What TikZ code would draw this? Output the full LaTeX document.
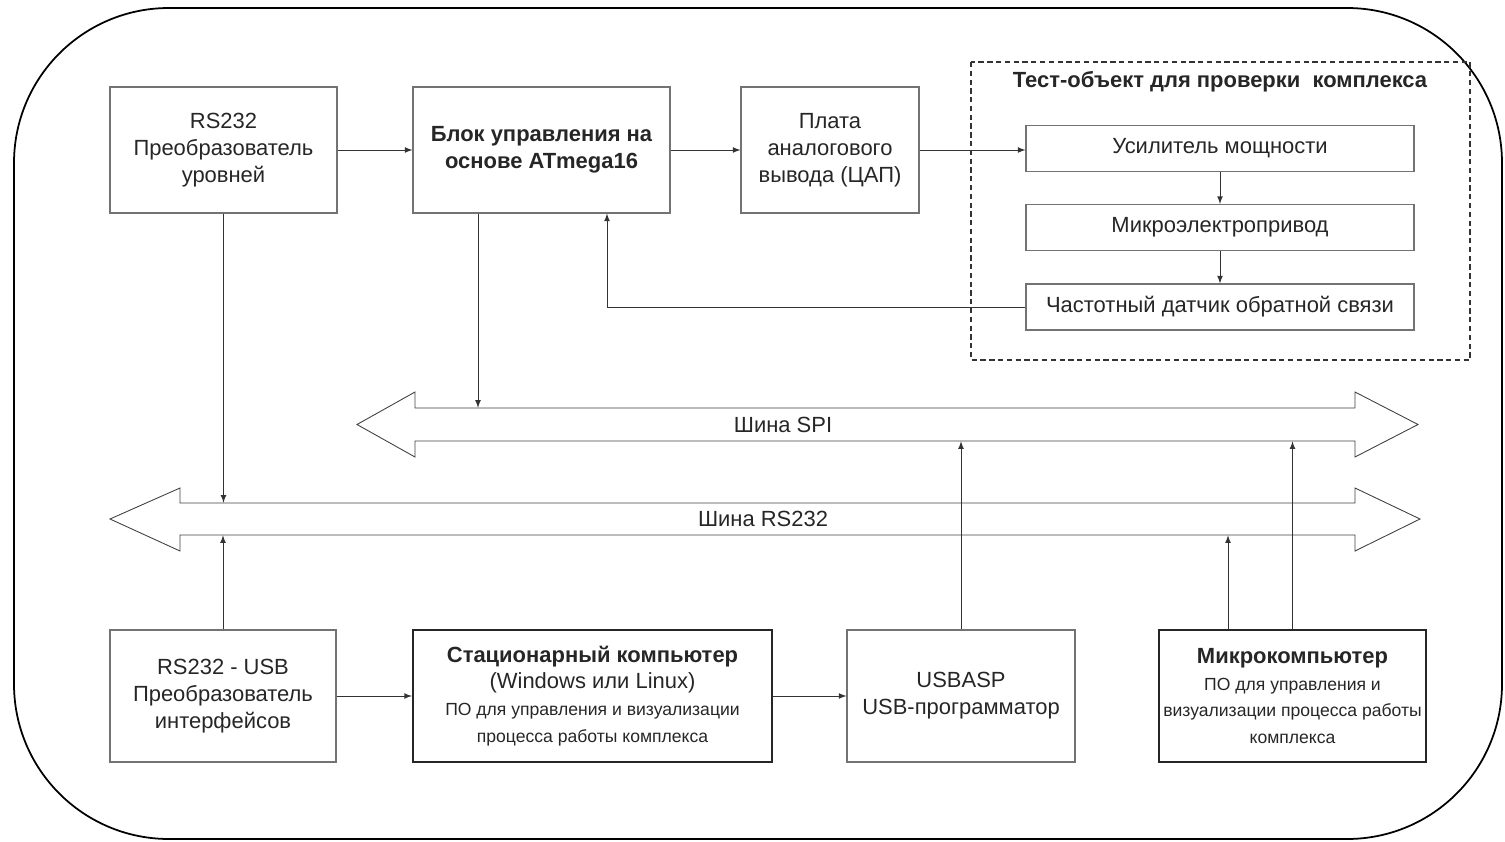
\documentclass[tikz,border=0pt]{standalone}
\usepackage{fontspec}
\setmainfont{Liberation Sans}
\usetikzlibrary{positioning,arrows}
\newcommand{\smtext}{\fontsize{10}{15.3}\selectfont}

\begin{document}
\begin{tikzpicture}[x=0.02cm,y=-0.02cm,
  every node/.style={font=\fontsize{12.5}{15.3}\selectfont,text=black!85,align=center,inner sep=0pt},
  blk/.style={draw=black!55,line width=0.7pt,minimum height=2.52cm},
  blkl/.style={draw=black!55,line width=0.7pt,minimum height=2.64cm},
  blkb/.style={draw=black!85,line width=1.3pt,minimum height=2.64cm},
  obj/.style={draw=black!55,line width=0.7pt,minimum width=7.76cm,minimum height=0.92cm},
  bus/.style={draw=black!75,line width=0.5pt},
  arr/.style={->,>=latex,draw=black!80,line width=0.5pt}]

\useasboundingbox (0,0) rectangle (1505,842);
\draw[line width=1pt,rounded corners=3.1cm] (14,8) rectangle (1502,839);

% top row
\node[blk,minimum width=4.54cm] (rsconv) at (223.5,150) {RS232\\Преобразователь\\уровней};
\node[blk,minimum width=5.14cm,font=\bfseries\fontsize{12.5}{15.3}\selectfont] (atmega) at (541.5,150) {Блок управления на\\основе ATmega16};
\node[blk,minimum width=3.56cm] (dac) at (830,150) {Плата\\аналогового\\вывода (ЦАП)};

% test object
\draw[dash pattern=on 3pt off 2pt,line width=0.9pt,draw=black!80] (971,62) rectangle (1470,360);
\node[font=\bfseries\fontsize{12.5}{15.3}\selectfont] (objtitle) at (1220,82) {Тест-объект для проверки\ \ комплекса};
\node[obj] (amp) at (1220,148.5) {Усилитель мощности};
\node[obj] (drive) at (1220,227.5) {Микроэлектропривод};
\node[obj] (sensor) at (1220,307) {Частотный датчик обратной связи};

% buses
\draw[bus] (357,424.5) -- (415,392) -- (415,408) -- (1355,408) -- (1355,392) -- (1418,424.5)
  -- (1355,457) -- (1355,441) -- (415,441) -- (415,457) -- cycle;
\node[minimum height=0.66cm] (spi) at (783,424.5) {Шина SPI};
\draw[bus] (110,519) -- (180,488) -- (180,503) -- (1355,503) -- (1355,488) -- (1420,519)
  -- (1355,551) -- (1355,535) -- (180,535) -- (180,551) -- cycle;
\node[minimum height=0.64cm] (rsbus) at (763,519) {Шина RS232};

% bottom row
\node[blkl,minimum width=4.52cm] (rsusb) at (223,696) {RS232 - USB\\Преобразователь\\интерфейсов};
\node[blkb,minimum width=7.18cm] (pc) at (592.5,696) {\textbf{Стационарный компьютер}\\(Windows или Linux)\\{\smtext ПО для управления и визуализации}\\{\smtext процесса работы комплекса}};
\node[blkl,minimum width=4.56cm] (usbasp) at (961,696) {USBASP\\USB-программатор};
\node[blkb,minimum width=5.34cm] (micro) at (1292.5,696) {\textbf{Микрокомпьютер}\\{\smtext ПО для управления и}\\{\smtext визуализации процесса работы}\\{\smtext комплекса}};

% connections
\foreach \a/\b in {rsconv/atmega,atmega/dac,amp/drive,drive/sensor,rsusb/pc,pc/usbasp}
  \draw[arr] (\a) -- (\b);
\draw[arr] (dac.east) -- (dac.east -| amp.west);

\coordinate (fb) at (607,0);
\draw[arr] (sensor.west) -| (atmega.south -| fb);

\coordinate (tspi) at (478,0);
\coordinate (trs) at (1228,0);
\draw[arr] (atmega.south -| tspi) -- (tspi |- spi.north);
\draw[arr] (rsconv.south) -- (rsconv.south |- rsbus.north);
\draw[arr] (rsusb.north) -- (rsusb.north |- rsbus.south);
\draw[arr] (usbasp.north) -- (usbasp.north |- spi.south);
\draw[arr] (micro.north -| trs) -- (trs |- rsbus.south);
\draw[arr] (micro.north) -- (micro.north |- spi.south);

\end{tikzpicture}
\end{document}
